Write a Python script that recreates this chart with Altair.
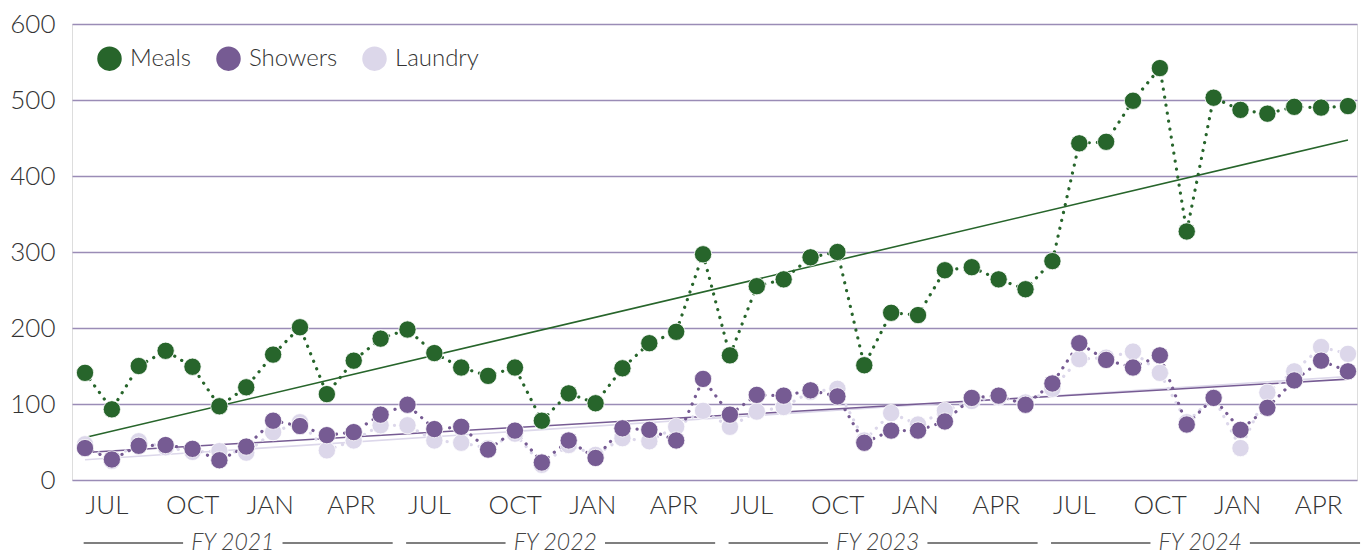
import json
import pandas as pd
import altair as alt

# ---------------- data ----------------
months = pd.period_range("2020-07", periods=48, freq="M").strftime("%b %Y").tolist()

series_names = ["Meals", "Showers", "Laundry"]
series_colors = ["#27652b", "#765b93", "#dcd7ea"]

meals = [141, 93, 150, 170, 149, 97, 122, 165, 201, 113,
         157, 186, 198, 167, 148, 137, 148, 78, 114, 101,
         147, 180, 195, 297, 164, 255, 264, 293, 300, 151,
         220, 217, 276, 280, 264, 251, 288, 443, 445, 499,
         542, 327, 503, 487, 482, 491, 490, 492]

showers = [42, 27, 45, 46, 41, 26, 44, 78, 71, 59,
           63, 86, 99, 67, 70, 40, 65, 23, 52, 29,
           68, 66, 52, 133, 86, 112, 111, 118, 110, 49,
           65, 65, 77, 108, 111, 99, 127, 180, 158, 148,
           164, 73, 108, 66, 95, 131, 157, 143]

laundry = [47, 25, 51, 43, 37, 38, 36, 63, 76, 39,
           52, 72, 72, 52, 49, 42, 61, 20, 46, 33,
           55, 51, 70, 91, 70, 90, 96, 116, 120, 52,
           88, 73, 91, 104, 109, 102, 120, 159, 161, 169,
           141, 76, 109, 42, 115, 143, 175, 166]

tick_labels = ["JUL", "OCT", "JAN", "APR"]
fiscal_years = ["FY 2021", "FY 2022", "FY 2023", "FY 2024"]

# --------------- tables ---------------
values_by_series = {"Meals": meals, "Showers": showers, "Laundry": laundry}
color_of = dict(zip(series_names, series_colors))
rows = []
for name in ["Laundry", "Showers", "Meals"]:  # drawing order: light at back
    for i, (m, v) in enumerate(zip(months, values_by_series[name])):
        rows.append({"idx": i, "month": m, "series": name, "value": v})
df = pd.DataFrame(rows)

fy_rows, fy_seg = [], []
for k, fy in enumerate(fiscal_years):
    c = 12 * k + 5.5
    fy_rows.append({"fy": fy, "center": c})
    fy_seg.append({"a": 12 * k - 0.05, "b": c - 1.85})
    fy_seg.append({"a": c + 1.85, "b": 12 * k + 11.45})
fy_df = pd.DataFrame(fy_rows)
seg_df = pd.DataFrame(fy_seg)

# --------------- scales ---------------
FONT = "Lato"
xscale = alt.Scale(domain=[-0.484, 47.336], nice=False, zero=False)
yscale = alt.Scale(domain=[0, 600], nice=False)
fill_scale = alt.Scale(domain=series_names, range=series_colors)
stroke_names = sorted(series_names)
stroke_scale = alt.Scale(domain=stroke_names, range=[color_of[n] for n in stroke_names])

label_expr = f"{json.dumps(tick_labels)}[round(datum.value / 3) % 4]"

x_axis = alt.Axis(
    values=list(range(0, 48, 3)), labelExpr=label_expr, labelAlign="left",
    labelFontSize=26, labelFont=FONT, labelFontWeight=300, labelColor="#333333",
    labelPadding=12, labelBaseline="top", grid=False, ticks=False, domain=False,
    labelFlush=False, labelOverlap=False, title=None,
)
y_axis = alt.Axis(
    values=list(range(0, 601, 100)), grid=True, gridColor="#9a8cb6", gridWidth=1.5,
    ticks=False, domain=False, labelFontSize=26, labelFont=FONT, labelFontWeight=300,
    labelColor="#333333", labelPadding=17, title=None,
)

base = alt.Chart(df)

trend = base.transform_regression(
    "idx", "value", groupby=["series"]
).mark_line(strokeWidth=1.6).encode(
    x=alt.X("idx:Q", scale=xscale, axis=x_axis),
    y=alt.Y("value:Q", scale=yscale, axis=y_axis),
    stroke=alt.Stroke("series:N", scale=stroke_scale, legend=None),
)

dotted = base.mark_line(strokeDash=[0.1, 8], strokeCap="round", strokeWidth=3.2).encode(
    x=alt.X("idx:Q", scale=xscale),
    y=alt.Y("value:Q", scale=yscale),
    stroke=alt.Stroke("series:N", scale=stroke_scale, legend=None),
    detail="series:N",
)

points = base.mark_circle(size=300, opacity=1, stroke="white", strokeWidth=0.8).encode(
    x=alt.X("idx:Q", scale=xscale),
    y=alt.Y("value:Q", scale=yscale),
    color=alt.Color(
        "series:N", scale=fill_scale, sort=series_names,
        legend=alt.Legend(
            orient="none", legendX=25, legendY=22, direction="horizontal", title=None,
            symbolSize=600, symbolType="circle", symbolStrokeWidth=0,
            labelFontSize=24, labelFont=FONT, labelFontWeight=300, labelColor="#333333",
            labelOffset=8, columnPadding=24, padding=0,
        ),
    ),
    tooltip=["month:N", "series:N", "value:Q"],
)

fy_lines = alt.Chart(seg_df).mark_rule(color="#555555", strokeWidth=1.3).encode(
    x=alt.X("a:Q", scale=xscale),
    x2="b:Q",
    y=alt.value(519),
)

fy_text = alt.Chart(fy_df).mark_text(
    font=FONT, fontSize=23, fontStyle="italic", fontWeight=300, color="#444444",
    baseline="middle", align="center",
).encode(
    x=alt.X("center:Q", scale=xscale),
    y=alt.value(519),
    text="fy:N",
)

chart = alt.layer(trend, dotted, points, fy_lines, fy_text).properties(
    width=1285, height=456,
    autosize=alt.AutoSizeParams(type="none"),
    padding={"left": 64, "top": 16, "right": 7, "bottom": 80},
).configure_view(stroke=None).configure(font=FONT)

chart.save("out.html", embed_options={"renderer": "svg", "actions": False})
